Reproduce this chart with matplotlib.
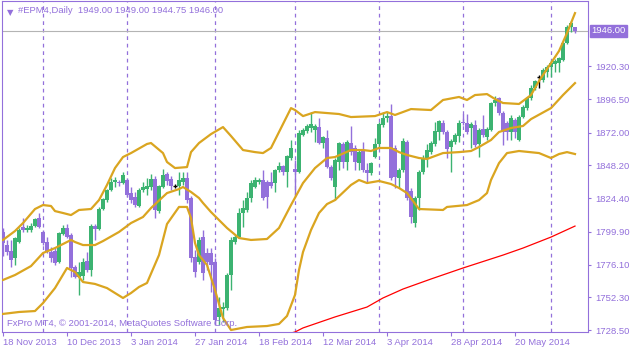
import matplotlib
matplotlib.use("Agg")
import matplotlib.pyplot as plt
import matplotlib.transforms as mtransforms

# daily OHLC, #EPM4, 18 Nov 2013 .. early Jun 2014
opens = [1799.8, 1790.3, 1786.0, 1780.9, 1792.5, 1803.4, 1801.2, 1801.2, 1804.1, 1809.9,
         1799.8, 1792.5, 1785.2, 1786.0, 1777.9, 1798.3, 1802.7, 1797.6, 1774.3, 1767.0,
         1767.8, 1778.7, 1772.1, 1804.1, 1802.0, 1816.5, 1823.0, 1830.3, 1836.1, 1836.1,
         1835.4, 1837.6, 1828.1, 1825.2, 1818.7, 1830.3, 1831.0, 1832.5, 1838.3, 1815.0,
         1832.5, 1842.0, 1838.3, 1833.2, 1833.2, 1836.1, 1839.1, 1824.5, 1781.6, 1777.9,
         1796.1, 1784.5, 1784.5, 1777.9, 1738.0, 1743.8, 1744.5, 1768.5, 1792.5, 1796.1,
         1813.6, 1815.8, 1824.5, 1832.5, 1836.1, 1837.6, 1836.1, 1836.1, 1835.4, 1844.9,
         1847.8, 1843.4, 1853.6, 1845.6, 1843.4, 1870.3, 1873.2, 1875.4, 1873.9, 1876.1,
         1864.5, 1868.1, 1847.0, 1832.5, 1850.7, 1863.8, 1850.7, 1864.5, 1860.9, 1849.9,
         1859.4, 1844.9, 1842.7, 1854.3, 1863.8, 1877.6, 1882.7, 1884.1, 1860.9, 1839.1,
         1844.9, 1865.2, 1829.6, 1806.3, 1824.5, 1843.4, 1853.6, 1857.9, 1863.8, 1872.5,
         1879.0, 1872.5, 1861.6, 1865.2, 1869.6, 1879.8, 1879.0, 1875.4, 1877.6, 1863.8,
         1874.7, 1868.9, 1873.9, 1893.6, 1897.2, 1886.3, 1879.0, 1872.5, 1881.2, 1866.7,
         1883.4, 1889.9, 1897.2, 1904.5, 1912.5, 1910.3, 1916.1, 1919.8, 1922.0, 1922.7,
         1924.9, 1937.2, 1948.9, 1949.0]
highs = [1802.7, 1794.0, 1794.0, 1796.1, 1802.7, 1809.9, 1804.9, 1806.3, 1809.9, 1813.6,
         1801.2, 1796.1, 1788.9, 1788.1, 1799.8, 1804.9, 1805.6, 1799.0, 1775.8, 1777.9,
         1780.9, 1785.2, 1805.6, 1805.6, 1818.0, 1824.5, 1831.0, 1839.1, 1839.8, 1837.6,
         1843.4, 1839.1, 1832.5, 1828.9, 1831.8, 1836.1, 1839.1, 1842.0, 1840.5, 1834.0,
         1845.6, 1843.4, 1840.5, 1834.7, 1843.4, 1843.4, 1843.4, 1826.0, 1786.7, 1796.1,
         1801.2, 1788.1, 1788.1, 1780.9, 1752.5, 1748.9, 1770.0, 1796.1, 1797.6, 1817.2,
         1823.0, 1828.9, 1837.6, 1839.8, 1839.1, 1844.9, 1837.6, 1843.4, 1845.6, 1850.7,
         1848.5, 1855.8, 1866.7, 1852.1, 1873.9, 1875.4, 1878.3, 1887.0, 1878.3, 1882.7,
         1869.6, 1873.9, 1848.5, 1853.6, 1865.2, 1865.2, 1866.7, 1876.9, 1863.0, 1859.4,
         1865.2, 1849.9, 1850.7, 1868.1, 1879.8, 1887.0, 1887.0, 1892.9, 1863.0, 1846.3,
         1868.1, 1866.7, 1831.8, 1826.0, 1844.9, 1855.8, 1863.8, 1866.0, 1879.8, 1881.2,
         1881.2, 1873.9, 1867.4, 1871.8, 1881.2, 1885.6, 1885.6, 1879.8, 1881.2, 1875.4,
         1884.9, 1876.1, 1894.3, 1898.7, 1898.0, 1887.8, 1880.5, 1884.9, 1882.7, 1884.9,
         1892.1, 1898.0, 1906.7, 1910.3, 1914.0, 1919.1, 1921.2, 1924.9, 1925.6, 1927.0,
         1938.0, 1950.3, 1953.2, 1949.0]
lows = [1782.3, 1783.0, 1774.3, 1775.8, 1791.8, 1799.8, 1799.8, 1799.8, 1803.4, 1802.7,
        1790.3, 1784.5, 1777.9, 1775.8, 1777.2, 1797.6, 1795.4, 1767.0, 1766.3, 1754.0,
        1764.9, 1770.7, 1767.8, 1794.0, 1801.2, 1815.8, 1821.6, 1829.6, 1832.5, 1833.2,
        1834.7, 1825.2, 1820.9, 1818.0, 1818.0, 1828.9, 1826.7, 1830.3, 1809.9, 1813.6,
        1831.8, 1834.0, 1830.3, 1831.8, 1826.7, 1834.0, 1820.9, 1777.9, 1767.0, 1776.5,
        1764.9, 1772.1, 1756.1, 1732.1, 1732.1, 1734.3, 1743.0, 1757.6, 1791.0, 1795.4,
        1803.4, 1814.3, 1821.6, 1831.8, 1834.7, 1823.0, 1817.2, 1831.8, 1828.9, 1843.4,
        1841.2, 1832.5, 1852.1, 1826.7, 1842.7, 1869.6, 1871.8, 1872.5, 1865.2, 1863.8,
        1860.9, 1846.3, 1837.6, 1823.0, 1844.9, 1846.3, 1844.9, 1855.8, 1844.9, 1844.9,
        1843.4, 1836.1, 1841.2, 1853.6, 1860.9, 1876.1, 1879.8, 1837.6, 1831.8, 1831.8,
        1843.4, 1823.0, 1806.3, 1803.4, 1815.8, 1842.0, 1847.0, 1856.5, 1862.3, 1866.7,
        1871.0, 1853.6, 1843.4, 1863.8, 1865.2, 1877.6, 1871.0, 1860.9, 1861.6, 1854.3,
        1868.9, 1866.7, 1873.2, 1891.4, 1884.9, 1863.0, 1866.7, 1866.7, 1868.1, 1866.0,
        1882.7, 1888.5, 1895.8, 1903.0, 1904.5, 1908.9, 1912.5, 1912.5, 1916.1, 1916.1,
        1924.1, 1936.5, 1945.2, 1944.75]
closes = [1791.8, 1785.2, 1779.4, 1795.4, 1801.2, 1801.2, 1802.7, 1804.1, 1809.2, 1803.4,
          1791.8, 1786.0, 1780.9, 1777.2, 1799.0, 1802.7, 1796.1, 1773.6, 1767.0, 1770.7,
          1777.9, 1772.1, 1804.1, 1802.0, 1816.5, 1823.8, 1830.3, 1836.1, 1837.6, 1835.4,
          1841.2, 1826.7, 1823.0, 1819.4, 1830.3, 1832.5, 1833.2, 1838.3, 1815.8, 1833.2,
          1841.2, 1836.9, 1833.2, 1833.2, 1837.6, 1839.1, 1823.0, 1780.9, 1770.7, 1794.0,
          1770.0, 1777.9, 1775.8, 1735.8, 1744.5, 1745.2, 1768.5, 1794.0, 1796.1, 1813.6,
          1817.2, 1824.5, 1835.4, 1837.6, 1837.6, 1824.5, 1825.2, 1833.2, 1844.9, 1847.8,
          1843.4, 1855.0, 1860.9, 1843.4, 1871.8, 1873.9, 1876.9, 1878.3, 1876.9, 1864.5,
          1868.9, 1847.0, 1839.1, 1852.1, 1864.5, 1850.7, 1865.2, 1857.9, 1850.7, 1857.9,
          1844.9, 1842.7, 1849.9, 1863.8, 1878.3, 1882.7, 1884.1, 1839.1, 1839.8, 1844.9,
          1866.0, 1824.5, 1810.7, 1824.5, 1843.4, 1853.6, 1859.4, 1864.5, 1873.2, 1880.5,
          1872.5, 1860.1, 1866.0, 1870.3, 1879.0, 1879.0, 1872.5, 1878.3, 1863.0, 1873.9,
          1870.3, 1874.7, 1893.6, 1895.8, 1886.3, 1872.5, 1872.5, 1882.7, 1872.5, 1883.4,
          1890.7, 1897.2, 1904.5, 1909.6, 1912.5, 1917.6, 1919.8, 1922.7, 1924.1, 1926.3,
          1937.2, 1948.9, 1951.8, 1946.0]

# Bollinger bands, read at selected bars
upper_bars = [0, 3, 5, 8, 10, 12, 13, 15, 17, 19, 22, 24, 26, 28, 30, 32, 36, 37, 40, 41,
              43, 46, 47, 49, 52, 55, 57, 60, 63, 65, 67, 70, 72, 73, 75, 78, 84, 87, 93, 96,
              98, 102, 107, 110, 114, 116, 118, 121, 123, 125, 129, 132, 134, 137, 139, 141, 143]
upper_vals = [1794.0, 1800.5, 1806.3, 1816.5, 1819.4, 1818.7, 1815.0, 1813.6, 1812.1, 1815.8,
              1816.5, 1823.0, 1834.0, 1846.3, 1854.3, 1857.2, 1863.8, 1864.5, 1857.2, 1850.7,
              1846.3, 1847.0, 1857.9, 1864.5, 1871.0, 1876.1, 1869.6, 1859.4, 1857.9, 1857.2,
              1860.9, 1878.3, 1889.9, 1888.5, 1884.1, 1887.0, 1885.6, 1883.4, 1884.1, 1887.0,
              1884.9, 1889.2, 1888.5, 1895.8, 1898.0, 1895.8, 1899.4, 1900.1, 1896.5, 1893.6,
              1892.9, 1899.4, 1909.6, 1922.7, 1931.4, 1944.5, 1959.0]
mid_bars = [0, 3, 7, 10, 13, 17, 18, 20, 23, 25, 29, 32, 35, 37, 41, 44, 45, 47, 49, 50,
            52, 56, 59, 62, 66, 69, 72, 75, 78, 81, 83, 87, 90, 92, 94, 97, 99, 101, 104, 106,
            110, 114, 117, 119, 122, 124, 127, 130, 132, 137, 140, 143]
mid_vals = [1764.9, 1768.5, 1775.0, 1784.5, 1788.1, 1794.0, 1792.5, 1790.3, 1790.3, 1793.2,
            1799.8, 1806.3, 1810.7, 1817.2, 1828.1, 1831.0, 1832.5, 1828.9, 1824.5, 1820.9,
            1814.3, 1802.7, 1795.4, 1794.0, 1794.7, 1802.7, 1819.4, 1835.4, 1846.3, 1853.6,
            1854.3, 1859.4, 1859.4, 1858.7, 1860.9, 1860.9, 1857.9, 1855.8, 1853.6, 1852.9,
            1857.2, 1857.9, 1858.7, 1861.6, 1866.7, 1872.5, 1875.4, 1876.9, 1881.9, 1889.9,
            1899.4, 1908.1]
lower_bars = [0, 4, 8, 10, 13, 16, 18, 20, 23, 26, 28, 30, 32, 34, 36, 39, 41, 44, 46, 47,
              48, 49, 51, 53, 55, 57, 61, 66, 69, 71, 73, 74, 75, 77, 79, 81, 83, 87, 89, 91,
              94, 97, 99, 101, 104, 110, 111, 116, 119, 121, 122, 124, 126, 129, 134, 137, 139,
              141, 143]
lower_vals = [1740.2, 1741.6, 1742.3, 1748.1, 1759.0, 1773.6, 1770.7, 1763.4, 1762.0, 1759.0,
              1755.4, 1751.8, 1755.4, 1759.8, 1762.7, 1783.0, 1805.6, 1818.0, 1818.0, 1809.9,
              1791.8, 1783.0, 1775.8, 1757.6, 1737.3, 1728.5, 1730.7, 1731.4, 1732.9, 1738.7,
              1754.0, 1772.1, 1785.2, 1801.2, 1813.6, 1820.1, 1823.0, 1834.0, 1837.6, 1835.4,
              1836.9, 1834.7, 1831.8, 1828.1, 1816.5, 1815.8, 1818.0, 1819.4, 1823.0, 1828.1,
              1837.6, 1849.9, 1857.2, 1858.7, 1857.2, 1853.6, 1856.5, 1857.9, 1856.5]
# long moving average (red)
ma_bars = [70, 73, 75, 83, 91, 95, 100, 107, 115, 125, 130, 137, 143]
ma_vals = [1724.8, 1727.05, 1730.0, 1738.0, 1745.2, 1751.8, 1758.3, 1765.6, 1773.6, 1783.0,
           1788.1, 1796.1, 1804.1]

sep_bars = [10, 31, 53, 73, 94, 115, 137]
date_bars = [0, 16, 32, 48, 64, 80, 96, 112, 128]
date_labels = ["18 Nov 2013", "10 Dec 2013", "3 Jan 2014", "27 Jan 2014", "18 Feb 2014",
               "12 Mar 2014", "3 Apr 2014", "28 Apr 2014", "20 May 2014"]
price_ticks = [1920.30, 1896.50, 1872.00, 1848.20, 1824.40, 1799.90, 1776.10, 1752.30, 1728.50]
last_price = 1946.00

UP = "#3cb371"
DN = "#9370db"
FG = "#9370db"
BAND = "#daa520"

plt.rcParams['font.family'] = ['Liberation Sans', 'DejaVu Sans']
fig = plt.figure(figsize=(6.31, 3.51), dpi=100)
ax = fig.add_axes([2 / 631, 19 / 351, 586 / 631, 331 / 351])
ax.set_xlim(-0.25, 146.25)
ax.set_ylim(1727.05, 1967.8)

for b in sep_bars:
    ax.axvline(b, color=FG, lw=0.9, ls=(0, (3, 3)), zorder=1)

ax.axhline(last_price, color="#b4b4b4", lw=0.8, zorder=1)

# candles
for i, (o, h, l, c) in enumerate(zip(opens, highs, lows, closes)):
    if c > o:
        col = UP
    elif c < o:
        col = DN
    else:
        col = "black"
    ax.vlines(i, l, h, color=col, lw=1.0, zorder=3)
    if c == o:
        ax.hlines(o, i - 0.4, i + 0.4, color=col, lw=1.0, zorder=3)
    else:
        ax.bar(i, abs(c - o), bottom=min(o, c), width=0.8, color=col, lw=0, zorder=3)

ax.plot(upper_bars, upper_vals, color=BAND, lw=1.6, zorder=4)
ax.plot(mid_bars, mid_vals, color=BAND, lw=1.6, zorder=4)
ax.plot(lower_bars, lower_vals, color=BAND, lw=1.6, zorder=4)
ax.plot(ma_bars, ma_vals, color="red", lw=0.9, zorder=4)

for s in ax.spines.values():
    s.set_color(FG)
    s.set_linewidth(0.8)

ax.set_xticks(date_bars)
ax.set_xticklabels(date_labels, ha="left")
ax.tick_params(axis="x", length=3, width=0.8, colors=FG, labelsize=6.8, pad=1.5)
ax.yaxis.tick_right()
ax.set_yticks(price_ticks)
ax.set_yticklabels(["%.2f" % v for v in price_ticks])
ax.tick_params(axis="y", length=2.5, width=0.8, colors=FG, labelsize=6.8, pad=2.5)

trans = mtransforms.blended_transform_factory(ax.transAxes, ax.transData)
ax.text(1.006, last_price, "%.2f" % last_price, transform=trans, ha="left", va="center",
        fontsize=6.8, color="white", clip_on=False,
        bbox=dict(boxstyle="square,pad=0.15", fc=FG, ec=FG))

ax.text(0.008, 0.978, "\u25bc", transform=ax.transAxes, fontsize=6, color=FG,
        va="top", ha="left", family="DejaVu Sans")
ax.text(0.028, 0.985, "#EPM4,Daily  1949.00 1949.00 1944.75 1946.00", transform=ax.transAxes,
        fontsize=6.8, color=FG, va="top", ha="left")
ax.text(0.009, 0.012, "FxPro MT4, \u00a9 2001-2014, MetaQuotes Software Corp.",
        transform=ax.transAxes, fontsize=6.8, color=FG, va="bottom", ha="left", zorder=6)

fig.savefig("out.png", dpi=100, facecolor="white")
